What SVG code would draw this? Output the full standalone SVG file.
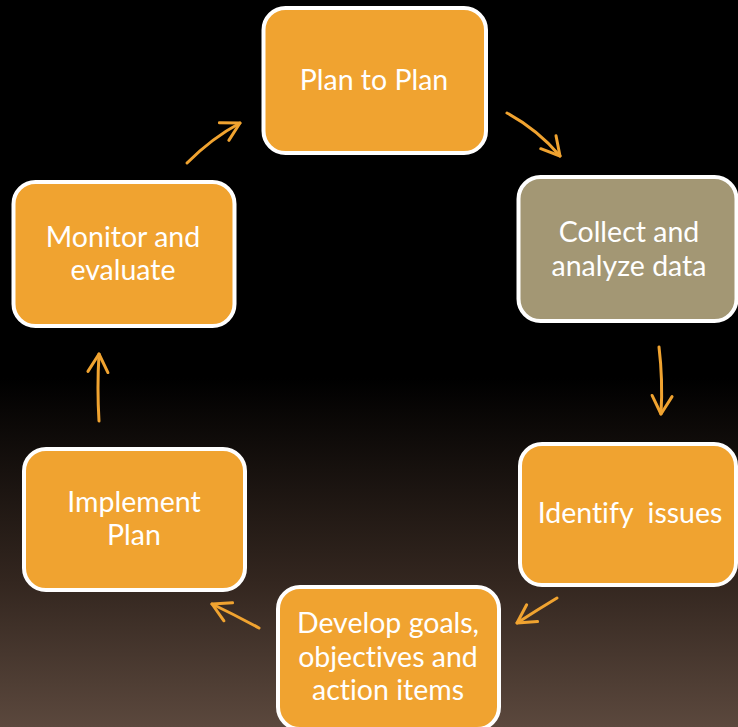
<svg xmlns="http://www.w3.org/2000/svg" width="738" height="727" viewBox="0 0 738 727">
  <defs>
    <linearGradient id="bg" x1="0" y1="0" x2="0" y2="1">
      <stop offset="0" stop-color="#000000"/>
      <stop offset="0.52" stop-color="#000000"/>
      <stop offset="0.8" stop-color="#33261f"/>
      <stop offset="1" stop-color="#5b483d"/>
    </linearGradient>
    <marker id="head" markerUnits="userSpaceOnUse" markerWidth="40" markerHeight="40" refX="0" refY="0" viewBox="-25 -20 30 40" orient="auto" overflow="visible">
      <path d="M-18,-10 L0,0 L-18,10" fill="none" stroke="#F0A330" stroke-width="3" stroke-linecap="round" stroke-linejoin="round"/>
    </marker>
    <style>
      .box { fill: #F0A330; stroke: #FFFFFF; stroke-width: 4; }
      .box.alt { fill: #A39774; }
      .lbl { font-family: "Lato", "Open Sans", "Liberation Sans", sans-serif; font-size: 28.5px; fill: #FFFFFF; text-anchor: middle; font-variant-ligatures: none; }
      .arrow { fill: none; stroke: #F0A330; stroke-width: 3; stroke-linecap: round; marker-end: url(#head); }
    </style>
  </defs>

  <rect x="0" y="0" width="738" height="727" fill="url(#bg)"/>

  <!-- connectors -->
  <g id="connectors">
    <path class="arrow" d="M187,163 Q212,138 240,123"/>
    <path class="arrow" d="M507,113 Q538,130 560,156"/>
    <path class="arrow" d="M659,347 Q663,380 661,414"/>
    <path class="arrow" d="M557,598 Q537,610 517,623"/>
    <path class="arrow" d="M259,628 Q235,615 212,604"/>
    <path class="arrow" d="M99,421 Q97,388 99,354"/>
  </g>

  <!-- nodes -->
  <g id="plan-to-plan">
    <rect class="box" x="263.5" y="8" width="222.5" height="145" rx="22"/>
    <text class="lbl" x="374" y="90">Plan to Plan</text>
  </g>
  <g id="collect-data">
    <rect class="box alt" x="518.5" y="177" width="218" height="144" rx="22"/>
    <text class="lbl" x="629" y="242">Collect and</text>
    <text class="lbl" x="629" y="276">analyze data</text>
  </g>
  <g id="identify-issues">
    <rect class="box" x="520" y="444" width="216" height="141" rx="22"/>
    <text class="lbl" x="630" y="523" xml:space="preserve">Identify  issues</text>
  </g>
  <g id="develop-goals">
    <rect class="box" x="278" y="587" width="221" height="142" rx="22"/>
    <text class="lbl" x="388" y="633">Develop goals,</text>
    <text class="lbl" x="388" y="667">objectives and</text>
    <text class="lbl" x="388" y="700">action items</text>
  </g>
  <g id="implement-plan">
    <rect class="box" x="24" y="449" width="221" height="141" rx="22"/>
    <text class="lbl" x="134" y="512">Implement</text>
    <text class="lbl" x="134" y="545">Plan</text>
  </g>
  <g id="monitor-evaluate">
    <rect class="box" x="13.5" y="182" width="221" height="144" rx="22"/>
    <text class="lbl" x="123" y="247">Monitor and</text>
    <text class="lbl" x="123" y="280">evaluate</text>
  </g>
</svg>
